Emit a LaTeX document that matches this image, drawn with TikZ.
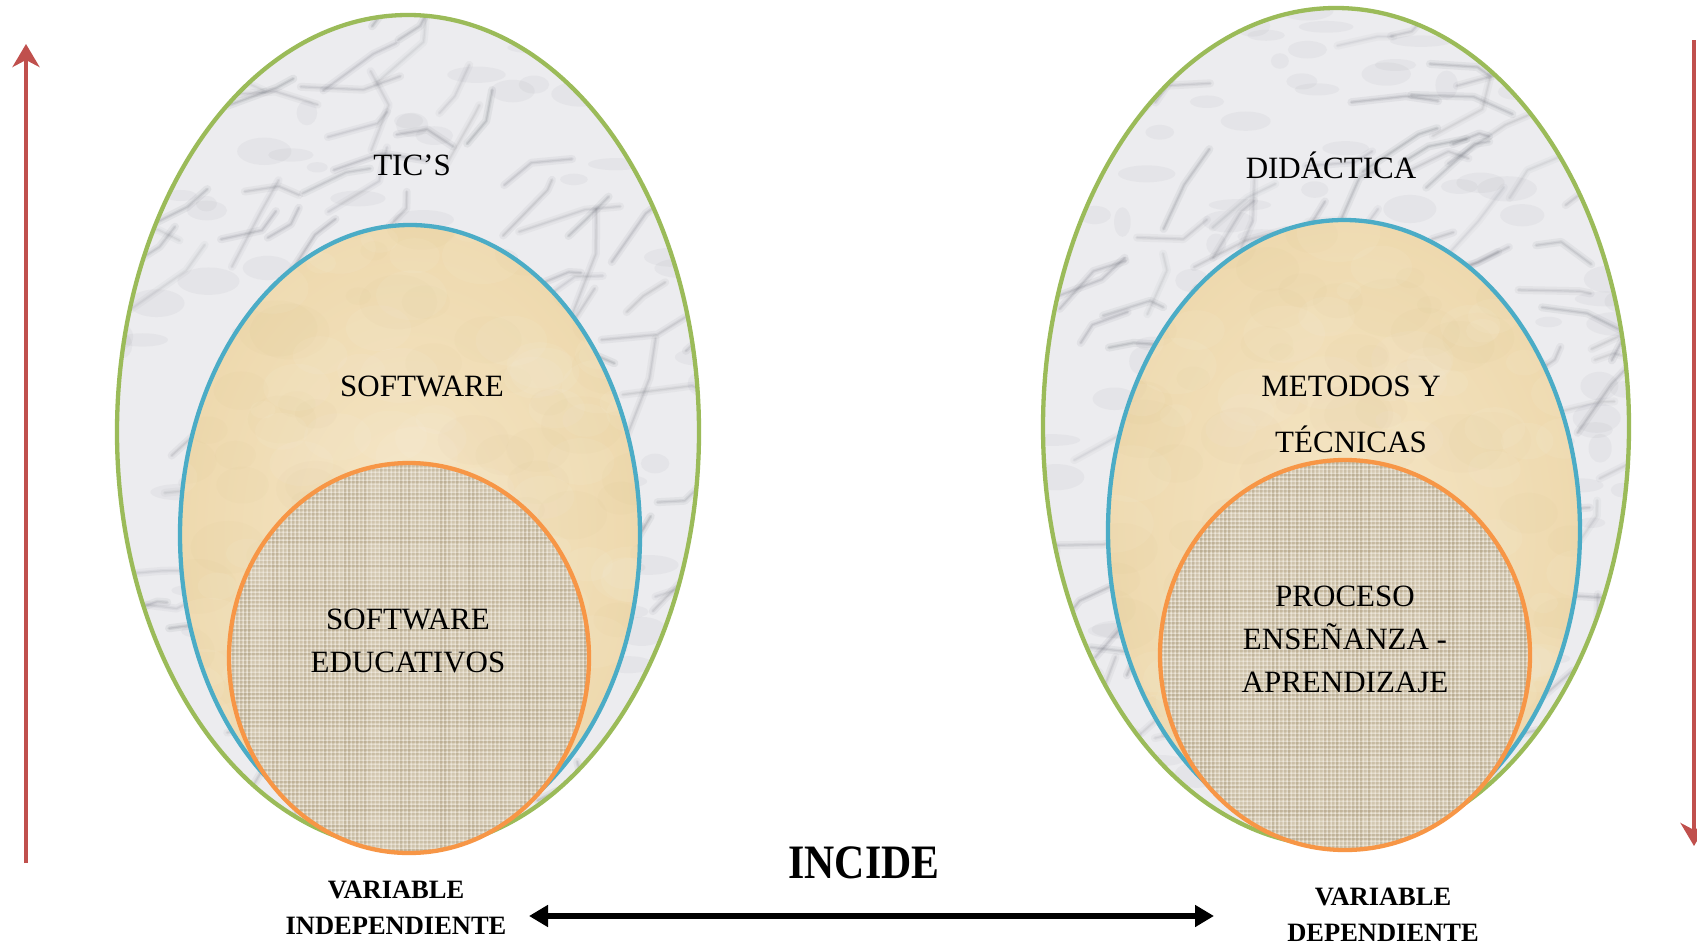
\documentclass[tikz,border=0pt]{standalone}
\usepackage{fontspec}
\setmainfont{Liberation Serif}
\usetikzlibrary{arrows.meta,shapes.geometric}
\definecolor{ogreen}{HTML}{9BBB59}
\definecolor{oblue}{HTML}{4BACC6}
\definecolor{oorange}{HTML}{F79646}
\definecolor{ored}{HTML}{C0504D}
\definecolor{marble}{HTML}{ECECEF}
\definecolor{vein}{HTML}{5E616B}
\definecolor{parchin}{HTML}{F5E6C6}
\definecolor{parchout}{HTML}{EED9AE}
\definecolor{parchdot}{HTML}{C9A66A}
\definecolor{burlap}{HTML}{DFD5C1}
\definecolor{thread}{HTML}{AE9F82}
\tikzset{
  marblefill/.style={fill=marble, path picture={
    \begin{scope}[shift={(path picture bounding box.center)}]
      \foreach \i in {1,...,160}{
        \pgfmathsetmacro\xa{rand*300}\pgfmathsetmacro\ya{rand*430}
        \pgfmathsetmacro\rx{8+rnd*24}\pgfmathsetmacro\ry{5+rnd*10}
        \fill[vein, opacity=0.05, rotate around={-30:(\xa,\ya)}] (\xa,\ya) ellipse [x radius=\rx, y radius=\ry];
      }
      \foreach \i in {1,...,150}{
        \pgfmathsetmacro\xa{rand*300}\pgfmathsetmacro\ya{rand*430}
        \pgfmathsetmacro\ang{-30+rand*40}\pgfmathsetmacro\len{20+rnd*50}
        \pgfmathsetmacro\xb{\xa+\len*cos(\ang)}\pgfmathsetmacro\yb{\ya+\len*sin(\ang)}
        \pgfmathsetmacro\angb{\ang+rand*50}\pgfmathsetmacro\lenb{10+rnd*35}
        \pgfmathsetmacro\xd{\xb+\lenb*cos(\angb)}\pgfmathsetmacro\yd{\yb+\lenb*sin(\angb)}
        \pgfmathsetmacro\s{0.5+rnd*0.6}
        \pgfmathsetmacro\opa{0.08*\s}\pgfmathsetmacro\opb{0.11*\s}\pgfmathsetmacro\opc{0.13*\s}
        \draw[vein, line cap=round, line join=round, opacity=\opa, line width=8pt] (\xa,\ya) -- (\xb,\yb) -- (\xd,\yd);
        \draw[vein, line cap=round, line join=round, opacity=\opb, line width=3.5pt] (\xa,\ya) -- (\xb,\yb) -- (\xd,\yd);
        \draw[vein, line cap=round, line join=round, opacity=\opc, line width=1.2pt] (\xa,\ya) -- (\xb,\yb) -- (\xd,\yd);
      }
    \end{scope}}},
  parchfill/.style={inner color=parchin, outer color=parchout, path picture={
    \begin{scope}[shift={(path picture bounding box.center)}]
      \foreach \i in {1,...,90}{
        \pgfmathsetmacro\xa{rand*240}\pgfmathsetmacro\ya{rand*320}
        \pgfmathsetmacro\rr{12+rnd*30}
        \fill[parchdot, opacity=0.035] (\xa,\ya) ellipse [x radius=\rr, y radius=0.7*\rr];
        \pgfmathsetmacro\xb{rand*240}\pgfmathsetmacro\yb{rand*320}
        \fill[white, opacity=0.06] (\xb,\yb) ellipse [x radius=\rr, y radius=0.7*\rr];
      }
    \end{scope}}},
  burlapfill/.style={fill=burlap, path picture={
    \begin{scope}[shift={(path picture bounding box.center)}]
      \foreach \k in {-200,-196,...,200}{
        \pgfmathsetmacro\op{0.1+rnd*0.4}
        \draw[thread, opacity=\op, line width=1.1pt] (\k,-210) -- (\k,210);
        \pgfmathsetmacro\opb{0.1+rnd*0.4}
        \draw[thread, opacity=\opb, line width=1.1pt] (-200,\k) -- (200,\k);
      }
      \foreach \k in {-198,-194,...,198}{
        \draw[white, opacity=0.25, line width=0.9pt] (\k,-210) -- (\k,210);
        \draw[white, opacity=0.25, line width=0.9pt] (-200,\k) -- (200,\k);
      }
    \end{scope}}},
  ovalbox/.style={ellipse, inner sep=0pt, line width=4.3pt},
  lbl/.style={font=\fontsize{31}{43}\selectfont, align=center, inner sep=0pt, text=black},
  vlbl/.style={font=\bfseries\fontsize{26.5}{35.5}\selectfont, align=center, inner sep=0pt},
  redarrow/.style={draw=ored, line width=4.3pt, -{Stealth[length=23pt, width=27pt, inset=7pt]}},
  blkarrow/.style={draw=black, line width=5.5pt, {Triangle[length=19pt, width=21pt]}-{Triangle[length=19pt, width=21pt]}},
}
\begin{document}
\begin{tikzpicture}[x=1pt, y=-1pt]
\pgfmathsetseed{7}
\fill[white] (0,0) rectangle (1697,945);
\useasboundingbox (0,0) rectangle (1697,945);

% left ellipses
\node[ovalbox, draw=ogreen, marblefill, minimum width=582pt, minimum height=834pt] (Lout) at (408,432) {};
\node[ovalbox, draw=oblue, parchfill, minimum width=460pt, minimum height=620pt] (Lmid) at (410,535) {};
\node[ovalbox, draw=oorange, burlapfill, minimum width=360pt, minimum height=390pt] (Lin) at (409,658) {};

% right ellipses
\node[ovalbox, draw=ogreen, marblefill, minimum width=586pt, minimum height=838pt] (Rout) at (1336,427) {};
\node[ovalbox, draw=oblue, parchfill, minimum width=472pt, minimum height=622pt] (Rmid) at (1344,531) {};
\node[ovalbox, draw=oorange, burlapfill, minimum width=370pt, minimum height=390pt] (Rin) at (1345,655) {};

% texts
\node[lbl] (tics) at (412,165) {TIC’S};
\node[lbl] (soft) at (422,386) {SOFTWARE};
\node[lbl] (softedu) at (408,641) {SOFTWARE\\EDUCATIVOS};
\node[lbl] (dida) at (1331,165) {DIDÁCTICA};
\node[lbl] (metod) at (1351,414) {METODOS Y\\[13pt]TÉCNICAS};
\node[lbl] (proc) at (1345,639) {PROCESO\\ENSEÑANZA -\\APRENDIZAJE};

% bottom labels
\node[font=\bfseries\fontsize{48}{52}\selectfont, inner sep=0pt] (incide) at (864,863) {\scalebox{0.87}[1]{INCIDE}};
\node[vlbl] (vind) at (396,908) {VARIABLE\\INDEPENDIENTE};
\node[vlbl] (vdep) at (1383,915) {VARIABLE\\DEPENDIENTE};

% arrows
\coordinate (dl) at (529,916);
\coordinate (dr) at (1214,916);
\draw[blkarrow] (dl) -- (dr);

\coordinate (lbot) at (26,863);
\coordinate (ltop) at (26,44);
\draw[redarrow] (lbot) -- (ltop);

\coordinate (rtop) at (1694,40);
\coordinate (rbot) at (1694,846);
\draw[redarrow] (rtop) -- (rbot);
\end{tikzpicture}
\end{document}
